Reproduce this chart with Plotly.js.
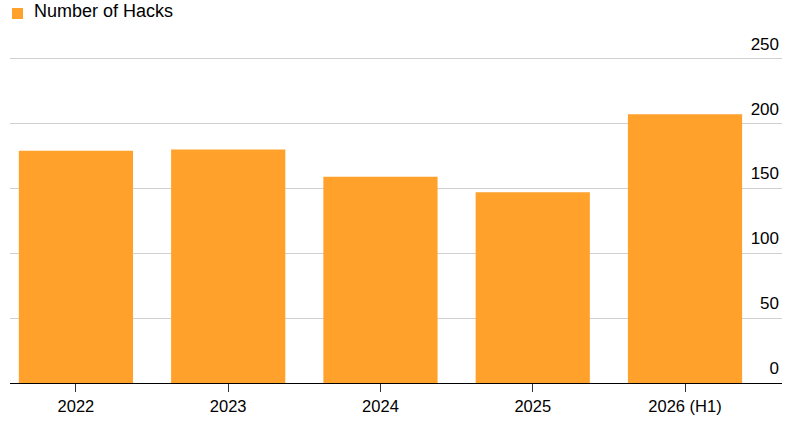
<!DOCTYPE html>
<html>
<head>
<meta charset="utf-8">
<script src="https://cdn.plot.ly/plotly-3.0.1.min.js"></script>
<style>html,body{margin:0;padding:0;background:#fff;}#chart{width:798px;height:423px;}</style>
</head>
<body>
<div id="chart"></div>
<script>
const categories = ["2022", "2023", "2024", "2025", "2026 (H1)"];
const hacks = [179, 180, 159, 147, 207];
const yTicks = [0, 50, 100, 150, 200, 250];
const seriesName = "Number of Hacks";
const barColor = "#ffa12b";

const trace = {
  type: "bar",
  x: categories,
  y: hacks,
  name: seriesName,
  marker: {color: barColor, line: {width: 0}},
  showlegend: false,
  hoverinfo: "x+y"
};

const layout = {
  width: 798,
  height: 423,
  margin: {l: 10, r: 16, t: 43, b: 40},
  paper_bgcolor: "#fff",
  plot_bgcolor: "#fff",
  font: {family: "Liberation Sans, Arial, sans-serif", color: "#000", size: 16},
  bargap: 0.25,
  showlegend: false,
  xaxis: {
    type: "category",
    range: [-0.433, 4.637],
    showgrid: false,
    showline: true,
    linecolor: "#000",
    linewidth: 1,
    ticks: "outside",
    ticklen: 8,
    tickcolor: "#333",
    tickfont: {size: 16.5, color: "#000"},
    zeroline: false,
    fixedrange: true
  },
  yaxis: {
    side: "right",
    range: [0, 262],
    tickvals: yTicks,
    ticktext: yTicks.map(String),
    ticklabelposition: "inside top",
    ticklabeloverflow: "allow",
    ticklabelshift: -3,
    showgrid: true,
    gridcolor: "#d0d0d0",
    gridwidth: 1,
    zeroline: false,
    showline: false,
    ticks: "",
    tickfont: {size: 17, color: "#000"},
    fixedrange: true
  },
  shapes: [{
    type: "rect", xref: "paper", yref: "paper", layer: "above",
    x0: 2 / 772, x1: 13 / 772,
    y0: 1 + (43 - 19) / 340, y1: 1 + (43 - 8) / 340,
    fillcolor: barColor, line: {width: 0}
  }],
  annotations: [{
    xref: "paper", yref: "paper",
    x: 22 / 772, y: 1 + (43 - 11.5) / 340,
    xanchor: "left", yanchor: "middle",
    text: seriesName, showarrow: false,
    font: {size: 18, color: "#000"}
  }]
};

Plotly.newPlot("chart", [trace], layout, {displayModeBar: false, staticPlot: true});
</script>
</body>
</html>
